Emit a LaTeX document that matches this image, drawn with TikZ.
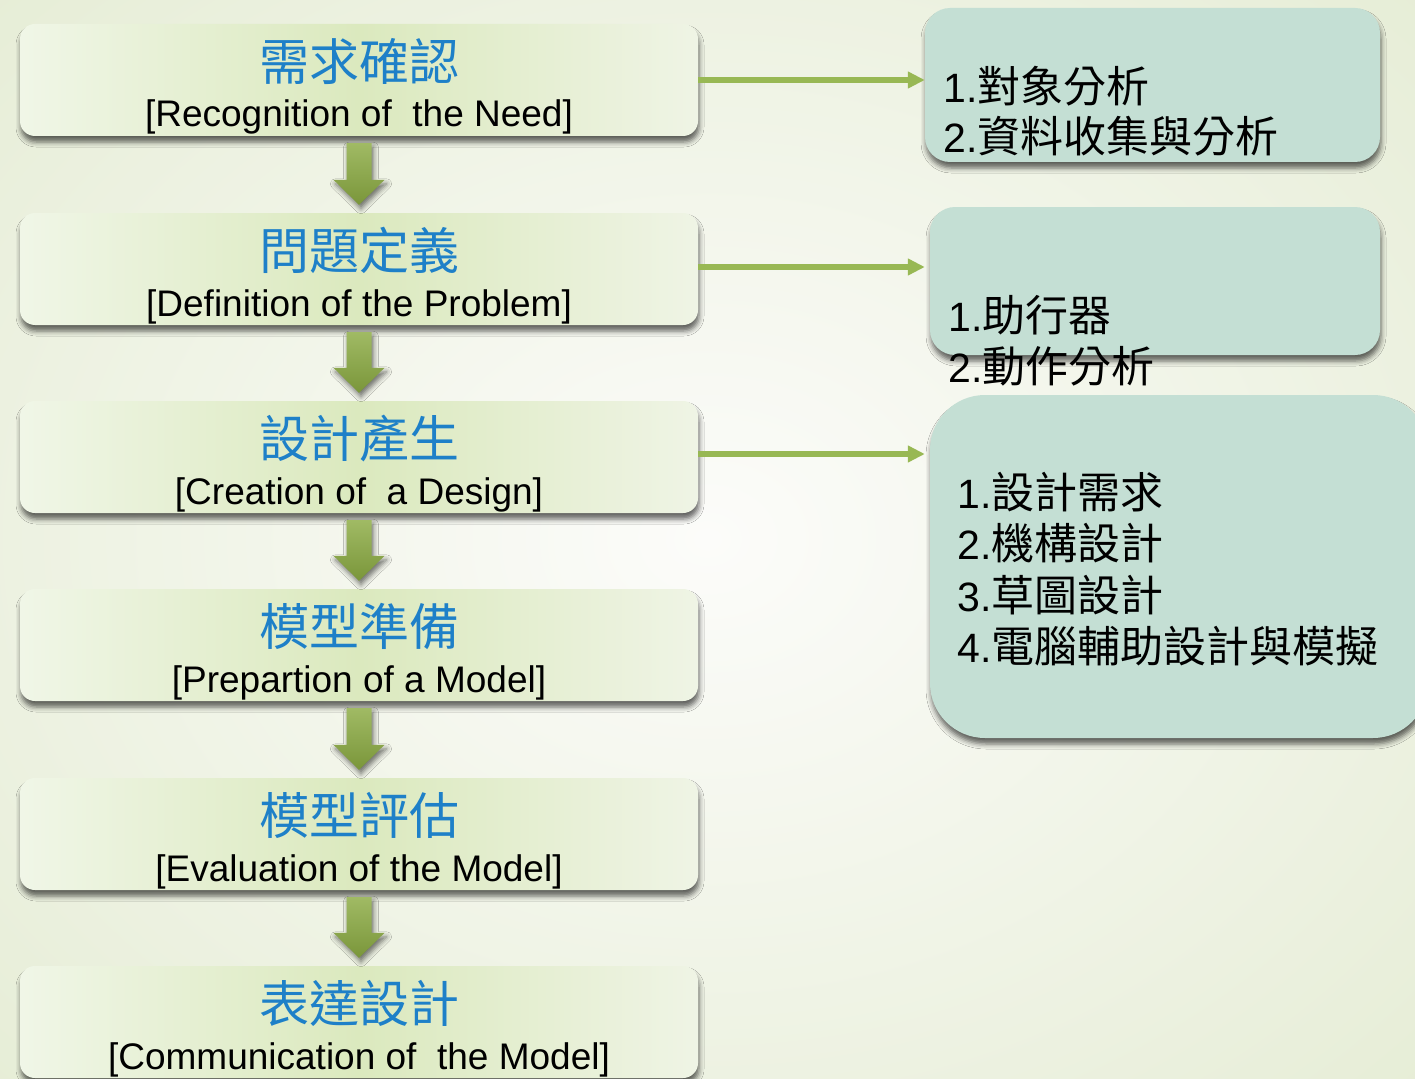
\documentclass[tikz,border=0pt]{standalone}
\usepackage{fontspec}
\setmainfont{Liberation Sans}
\newfontfamily\cjk{Noto Sans CJK TC}
\usetikzlibrary{shadows.blur,calc,arrows.meta}
\definecolor{bgin}{RGB}{252,252,250}
\definecolor{bgout}{RGB}{230,237,214}
\definecolor{boxL}{RGB}{240,246,231}
\definecolor{boxM}{RGB}{219,233,190}
\definecolor{boxR}{RGB}{239,244,229}
\definecolor{titleblue}{RGB}{30,128,200}
\definecolor{olive}{RGB}{152,184,84}
\definecolor{oliveT}{RGB}{160,186,100}
\definecolor{oliveD}{RGB}{122,150,58}
\definecolor{tealbox}{RGB}{196,223,212}
\newcommand\rl[2]{{\fontsize{41}{45}\selectfont #1}{\cjk\fontsize{43}{47}\selectfont #2}}
\newcommand\dnarrow[2]{\path[downarrow] ($(#1.south)+(-12.5,7)$) -- ($(#1.south)+(12.5,7)$) -- ($(#2.north)+(12.5,-33)$) -- ($(#2.north)+(25.5,-33)$) -- ($(#2.north)+(0,-8)$) -- ($(#2.north)+(-25.5,-33)$) -- ($(#2.north)+(-12.5,-33)$) -- cycle;}
\tikzset{
  softshadow/.style={blur shadow={shadow xshift=1pt, shadow yshift=-6pt, shadow opacity=60, shadow blur radius=5pt}},
  stepbox/.style={rectangle, rounded corners=15pt, minimum width=678pt, minimum height=112pt, inner sep=0pt,
    left color=boxL, right color=boxR, middle color=boxM, draw=none, softshadow},
  infobox/.style={rectangle, fill=tealbox, inner sep=0pt, draw=none, softshadow},
  zh/.style={font=\cjk\fontsize{50}{54}\selectfont, text=titleblue, inner sep=0pt, anchor=center},
  en/.style={font=\fontsize{37}{42}\selectfont, inner sep=0pt, anchor=base},
  itemline/.style={inner sep=0pt, anchor=west},
  sidearrow/.style={draw=olive, line width=6pt, -{Triangle[length=17pt,width=16pt]}},
  downarrow/.style={top color=oliveT, bottom color=oliveD, draw=none,
    blur shadow={shadow xshift=2pt, shadow yshift=-4pt, shadow opacity=55, shadow blur radius=5pt}}
}
\begin{document}
\begin{tikzpicture}[x=1pt,y=-1pt]
\useasboundingbox (0,0) rectangle (1415,1078);
\begin{scope}
\clip (0,0) rectangle (1415,1078);
\shade[inner color=bgin, outer color=bgout] (-300,-260) rectangle (1715,1338);

% left step boxes
\node[stepbox] (b1) at (359,80) {};
\node[stepbox] (b2) at (359,269) {};
\node[stepbox] (b3) at (359,457) {};
\node[stepbox] (b4) at (359,645) {};
\node[stepbox] (b5) at (359,834) {};
\node[stepbox] (b6) at (359,1022) {};

\node[zh] (z1) at ($(b1.center)+(0,-18.5)$) {需求確認};
\node[en] (e1) at ($(b1.center)+(0,47)$) {[Recognition of\ \ the Need]};
\node[zh] (z2) at ($(b2.center)+(0,-18.5)$) {問題定義};
\node[en] (e2) at ($(b2.center)+(0,47)$) {[Definition of the Problem]};
\node[zh] (z3) at ($(b3.center)+(0,-18.5)$) {設計產生};
\node[en] (e3) at ($(b3.center)+(0,47)$) {[Creation of\ \ a Design]};
\node[zh] (z4) at ($(b4.center)+(0,-18.5)$) {模型準備};
\node[en] (e4) at ($(b4.center)+(0,47)$) {[Prepartion of a Model]};
\node[zh] (z5) at ($(b5.center)+(0,-18.5)$) {模型評估};
\node[en] (e5) at ($(b5.center)+(0,47)$) {[Evaluation of the Model]};
\node[zh] (z6) at ($(b6.center)+(0,-18.5)$) {表達設計};
\node[en] (e6) at ($(b6.center)+(0,47)$) {[Communication of\ \ the Model]};

% down arrows
\dnarrow{b1}{b2}
\dnarrow{b2}{b3}
\dnarrow{b3}{b4}
\dnarrow{b4}{b5}
\dnarrow{b5}{b6}

% right info boxes
\node[infobox, rounded corners=25pt, minimum width=455pt, minimum height=154pt] (r1) at (1152.5,85) {};
\node[infobox, rounded corners=25pt, minimum width=450pt, minimum height=148pt] (r2) at (1155,281) {};
\node[infobox, rounded corners=55pt, minimum width=498pt, minimum height=343pt] (r3) at (1179,566.5) {};

\node[itemline] (r1a) at (943,86) {\rl{1.}{對象分析}};
\node[itemline] (r1b) at (943,136) {\rl{2.}{資料收集與分析}};
\node[itemline] (r2a) at (948,315) {\rl{1.}{助行器}};
\node[itemline] (r2b) at (948,366) {\rl{2.}{動作分析}};
\node[itemline] (r3a) at (957,492) {\rl{1.}{設計需求}};
\node[itemline] (r3b) at (957,543) {\rl{2.}{機構設計}};
\node[itemline] (r3c) at (957,595) {\rl{3.}{草圖設計}};
\node[itemline] (r3d) at (957,646) {\rl{4.}{電腦輔助設計與模擬}};

% side arrows
\draw[sidearrow] (b1.east) -- (b1.east -| r1.west);
\draw[sidearrow, shorten >=5pt] ($(b2.east)+(0,-2)$) -- ($(b2.east -| r2.west)+(0,-2)$);
\draw[sidearrow, shorten >=5pt] ($(b3.east)+(0,-3)$) -- ($(b3.east -| r3.west)+(0,-3)$);
\end{scope}
\end{tikzpicture}
\end{document}
